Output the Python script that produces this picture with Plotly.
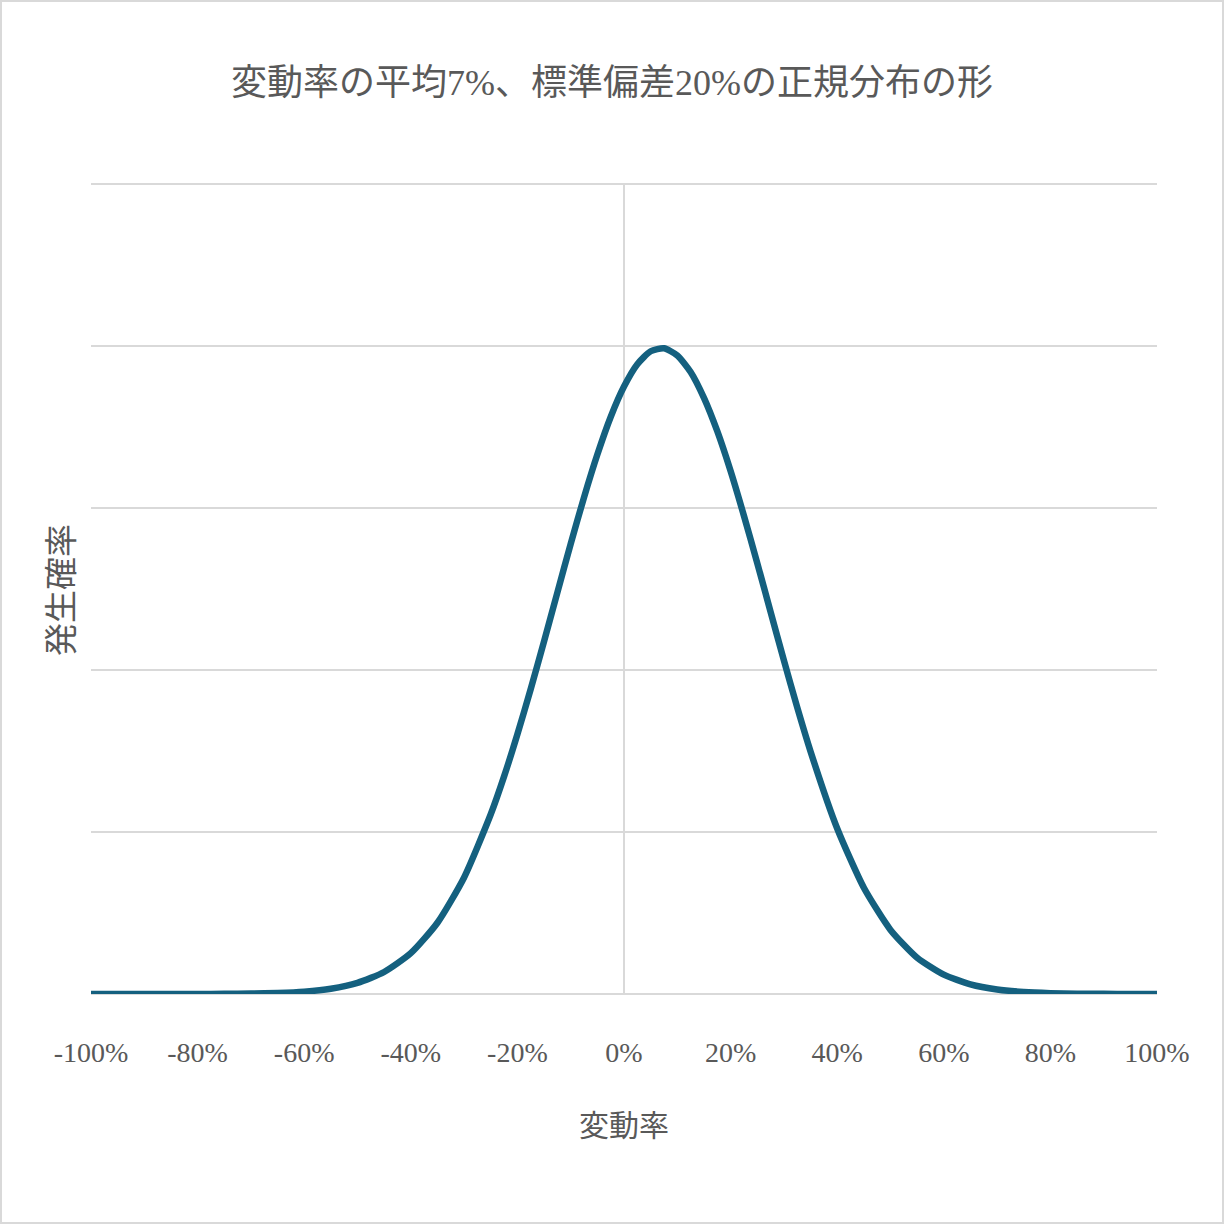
import plotly.graph_objects as go

# 変動率 (x, as fraction) and 発生確率 (density)
rates = [-1.00, -0.95, -0.90, -0.85, -0.80, -0.75, -0.70, -0.65, -0.60, -0.55,
         -0.50, -0.45, -0.40, -0.35, -0.30, -0.25, -0.225, -0.20, -0.175, -0.15,
         -0.125, -0.10, -0.075, -0.05, -0.025, 0.00, 0.025, 0.05, 0.075, 0.10,
         0.125, 0.15, 0.175, 0.20, 0.225, 0.25, 0.275, 0.30, 0.325, 0.35,
         0.40, 0.45, 0.50, 0.55, 0.60, 0.65, 0.70, 0.75, 0.80, 0.85,
         0.90, 0.95, 1.00]
probs = [0.0000, 0.0000, 0.0000, 0.0001, 0.0002, 0.0005, 0.0012, 0.0031, 0.0073, 0.0163,
         0.0344, 0.0679, 0.126, 0.220, 0.360, 0.555, 0.672, 0.802, 0.942, 1.089,
         1.240, 1.390, 1.534, 1.666, 1.782, 1.876, 1.945, 1.985, 1.994, 1.972,
         1.921, 1.841, 1.738, 1.615, 1.477, 1.331, 1.180, 1.030, 0.885, 0.749,
         0.511, 0.328, 0.198, 0.112, 0.0596, 0.0298, 0.0140, 0.0062, 0.0026, 0.0010,
         0.0004, 0.0001, 0.0000]

tick_vals = [-1.0, -0.8, -0.6, -0.4, -0.2, 0.0, 0.2, 0.4, 0.6, 0.8, 1.0]
tick_text = ["-100%", "-80%", "-60%", "-40%", "-20%", "0%", "20%", "40%", "60%", "80%", "100%"]
y_grid = [0, 0.5, 1.0, 1.5, 2.0, 2.5]

title_text = "変動率の平均7%、標準偏差20%の正規分布の形"
x_title = "変動率"
y_title = "発生確率"

text_gray = "#595959"
grid_gray = "#D9D9D9"
font_family = "Liberation Serif, Noto Sans CJK JP, serif"

fig = go.Figure(go.Scatter(
    x=rates, y=probs,
    mode="lines",
    line=dict(color="#14607F", width=6.5, shape="spline", smoothing=0.6),
    hoverinfo="skip",
))

# plot area: 91..1157 px wide, 2.5 at y=184, 0 at y=994 (range padded to 2.52)
fig.update_layout(
    width=1224, height=1224,
    paper_bgcolor="white", plot_bgcolor="white",
    margin=dict(l=91, r=67, t=178, b=230),
    showlegend=False,
    font=dict(family=font_family, color=text_gray),
    title=dict(text=title_text, x=0.5, xanchor="center", y=1 - 82 / 1224, yanchor="middle",
               font=dict(size=36, color=text_gray, family=font_family)),
)

fig.update_xaxes(
    range=[-1, 1], tickvals=tick_vals, ticktext=tick_text,
    showgrid=False, zeroline=False,
    showline=False, ticks="outside", ticklen=33, tickcolor="rgba(0,0,0,0)",
    tickfont=dict(size=28, color=text_gray, family=font_family),
)
fig.update_yaxes(
    range=[0, 2.52], tickvals=y_grid, showticklabels=False,
    showgrid=True, gridcolor=grid_gray, gridwidth=2,
    zeroline=True, zerolinecolor=grid_gray, zerolinewidth=2,
    showline=False,
)

# vertical axis line at x = 0, spanning the gridded area
fig.add_shape(type="line", xref="x", yref="y", x0=0, x1=0, y0=y_grid[0], y1=y_grid[-1],
              line=dict(color=grid_gray, width=2), layer="below")

# axis titles
fig.add_annotation(text=x_title, xref="paper", yref="paper", x=0.5, y=-131 / 816,
                   xanchor="center", yanchor="middle", showarrow=False,
                   font=dict(size=30, color=text_gray, family=font_family))
fig.add_annotation(text=y_title, xref="paper", yref="paper", x=-29 / 1066, y=(994 - 590) / 816,
                   xanchor="center", yanchor="middle", showarrow=False, textangle=-90,
                   font=dict(size=33, color=text_gray, family=font_family))

# chart border
fig.add_shape(type="rect", xref="paper", yref="paper",
              x0=-90 / 1066, x1=1 + 66 / 1066, y0=-229 / 816, y1=1 + 177 / 816,
              line=dict(color=grid_gray, width=2), fillcolor="rgba(0,0,0,0)", layer="below")

fig.write_html("out.html", config={"displayModeBar": False},
               post_script="document.body.style.margin='0';")
